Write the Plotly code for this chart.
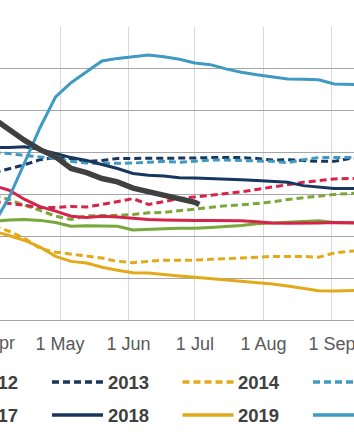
import pandas as pd
import plotly.graph_objects as go

# ---------------- data ----------------
dates = ["2021-04-01", "2021-04-08", "2021-04-15", "2021-04-22", "2021-04-29",
         "2021-05-06", "2021-05-13", "2021-05-20", "2021-05-27", "2021-06-03",
         "2021-06-10", "2021-06-17", "2021-06-24", "2021-07-01", "2021-07-08",
         "2021-07-15", "2021-07-22", "2021-07-29", "2021-08-05", "2021-08-12",
         "2021-08-19", "2021-08-26", "2021-09-02", "2021-09-09", "2021-09-16"]

y2011 = [29.8, 28.8, 27.4, 26.2, 24.8, 24.0, 24.9, 24.9, 25.0, 25.2, 25.6, 25.7, 26.1,
         26.4, 26.9, 27.3, 27.5, 27.9, 28.2, 28.8, 29.2, 29.6, 30.0, 30.2, 30.4]
y2012 = [28.3, 27.9, 27.4, 26.9, 26.9, 27.1, 27.0, 27.6, 28.3, 29.0, 27.6, 28.3, 29.0,
         29.4, 29.8, 30.2, 30.6, 31.2, 31.8, 32.4, 32.9, 33.3, 33.7, 33.8, 33.8]
y2013 = [35.2, 36.2, 37.1, 38.3, 38.8, 38.6, 37.9, 38.1, 38.6, 38.6, 38.6, 38.6, 38.6,
         38.7, 38.8, 38.8, 38.8, 38.6, 38.2, 38.3, 38.1, 37.9, 37.9, 38.6, 38.6]
y2014 = [22.4, 21.2, 19.5, 17.1, 16.2, 15.7, 15.2, 14.8, 14.0, 13.7, 14.0, 14.3, 14.3,
         14.3, 14.5, 14.6, 14.8, 15.0, 15.2, 15.2, 15.2, 15.0, 16.0, 16.4, 16.7]
y2015 = [40.0, 39.8, 39.3, 39.0, 38.6, 37.9, 37.5, 37.4, 37.4, 37.5, 37.7, 37.9, 37.7,
         38.0, 38.2, 38.2, 38.1, 38.1, 37.9, 37.6, 38.3, 38.8, 38.8, 38.8, 38.8]
y2016 = [23.6, 23.9, 24.0, 23.8, 23.3, 22.4, 22.5, 22.4, 22.4, 21.5, 21.7, 21.8, 21.9,
         21.9, 22.1, 22.3, 22.6, 23.0, 23.2, 23.3, 23.5, 23.7, 23.3, 23.1, 23.1]
y2017 = [32.1, 31.0, 28.8, 27.1, 26.0, 24.8, 24.5, 24.8, 24.6, 24.3, 24.0, 23.9, 23.8,
         23.8, 23.8, 23.8, 23.7, 23.5, 23.2, 23.1, 23.1, 23.2, 23.3, 23.2, 23.2]
y2018 = [41.2, 41.2, 41.4, 40.7, 39.8, 38.8, 38.1, 37.1, 36.2, 35.0, 34.6, 34.4, 34.0,
         33.9, 33.8, 33.6, 33.5, 33.3, 33.1, 32.9, 32.1, 31.7, 31.4, 31.4, 31.4]
y2019 = [21.2, 20.2, 19.0, 17.4, 15.2, 14.0, 13.6, 12.6, 11.9, 11.3, 11.2, 10.8, 10.5,
         10.2, 9.9, 9.5, 9.2, 8.9, 8.6, 8.1, 7.6, 7.0, 6.9, 7.1, 7.1]
y2020 = [22.9, 29.3, 37.6, 46.0, 53.3, 56.7, 59.3, 61.9, 62.5, 62.9, 63.3, 62.9, 62.3,
         61.4, 61.0, 60.0, 59.2, 58.6, 58.1, 57.6, 57.5, 57.4, 56.4, 56.2, 56.2]

dates2021 = ["2021-04-01", "2021-04-08", "2021-04-15", "2021-04-22", "2021-04-29",
             "2021-05-06", "2021-05-13", "2021-05-20", "2021-05-27", "2021-06-03",
             "2021-06-10", "2021-06-17", "2021-06-24", "2021-07-01", "2021-07-03"]
y2021 = [48.1, 45.4, 42.9, 40.7, 39.0, 36.2, 35.2, 33.8, 33.0, 31.5, 30.6, 30.0, 29.0,
         28.1, 27.6]

years_dashed = ["2011", "2012", "2013", "2014", "2015"]
years_solid = ["2016", "2017", "2018", "2019", "2020"]
series_dashed = [y2011, y2012, y2013, y2014, y2015]
series_solid = [y2016, y2017, y2018, y2019, y2020]

# ---------------- styles ----------------
palette = ["#79A83A", "#D5244A", "#17375E", "#E2AA1A", "#3F9AC3"]
GRAY = "#404040"
DASH = "7px,4px"
W, H = 354, 442
ML, MR, MT, MB = 0, 0, 27, 122
x_range = ["2021-04-03 20:40", "2021-09-10 23:00"]

fig = go.Figure()
for yr, ys, col in zip(years_dashed, series_dashed, palette):
    fig.add_trace(go.Scatter(x=dates, y=ys, mode="lines", name=yr, showlegend=False,
                             line=dict(color=col, width=3, dash=DASH)))
for yr, ys, col in zip(years_solid, series_solid, palette):
    fig.add_trace(go.Scatter(x=dates, y=ys, mode="lines", name=yr, showlegend=False,
                             line=dict(color=col, width=3)))
fig.add_trace(go.Scatter(x=dates2021, y=y2021, mode="lines", name="2021", showlegend=False,
                         line=dict(color=GRAY, width=5.5)))

# ---------------- hand-built legend (cropped like the reference) ----------------
plot_w = W - ML - MR
plot_h = H - MT - MB
row_px = [382, 415]
col_step = 130.5
col_line_start = [52 + (c - 2) * col_step for c in range(5)]
shapes, annotations = [], []
for r, (yrs, dash) in enumerate([(years_dashed, DASH), (years_solid, "solid")]):
    ypaper = (H - MB - row_px[r]) / plot_h
    for c, (yr, col) in enumerate(zip(yrs, palette)):
        xs = col_line_start[c]
        shapes.append(dict(type="line", xref="paper", yref="paper",
                           x0=(xs - ML) / plot_w, x1=(xs + 51 - ML) / plot_w,
                           y0=ypaper, y1=ypaper,
                           line=dict(color=col, width=3.5, dash=dash)))
        annotations.append(dict(text=yr, xref="paper", yref="paper",
                                x=(xs + 53.5 - ML) / plot_w, y=ypaper,
                                xanchor="left", yanchor="middle", showarrow=False,
                                font=dict(family="Liberation Sans", size=18.5,
                                          color="#404040", weight="bold")))

# partially visible "1 Apr" tick label (outside axis range, so drawn as annotation)
r0 = pd.Timestamp(x_range[0]); r1 = pd.Timestamp(x_range[1])
apr_frac = (pd.Timestamp("2021-04-01") - r0) / (r1 - r0)
annotations.append(dict(text="1 Apr", xref="paper", yref="paper", x=apr_frac,
                        y=(H - MB - 343) / plot_h, xanchor="center", yanchor="middle",
                        showarrow=False,
                        font=dict(family="Liberation Sans", size=18, color="#595959")))

fig.update_layout(
    width=W, height=H,
    margin=dict(l=ML, r=MR, t=MT, b=MB, autoexpand=False),
    paper_bgcolor="white", plot_bgcolor="white",
    showlegend=False,
    shapes=shapes, annotations=annotations,
    xaxis=dict(type="date", range=x_range, tick0="2021-01-01", dtick="M1",
               tickformat="%-d %b", ticklabeloverflow="allow",
               showgrid=True, gridcolor="#d9d9d9", gridwidth=1,
               showline=True, linecolor="#a6a6a6", linewidth=1.3,
               ticks="outside", ticklen=7, tickcolor="rgba(0,0,0,0)",
               tickfont=dict(family="Liberation Sans", size=18, color="#595959"),
               zeroline=False, fixedrange=True),
    yaxis=dict(range=[0, 70], dtick=10, showticklabels=False, showgrid=True,
               gridcolor="#a6a6a6", gridwidth=1.3, zeroline=False, fixedrange=True),
)

fig.write_html("out.html")
